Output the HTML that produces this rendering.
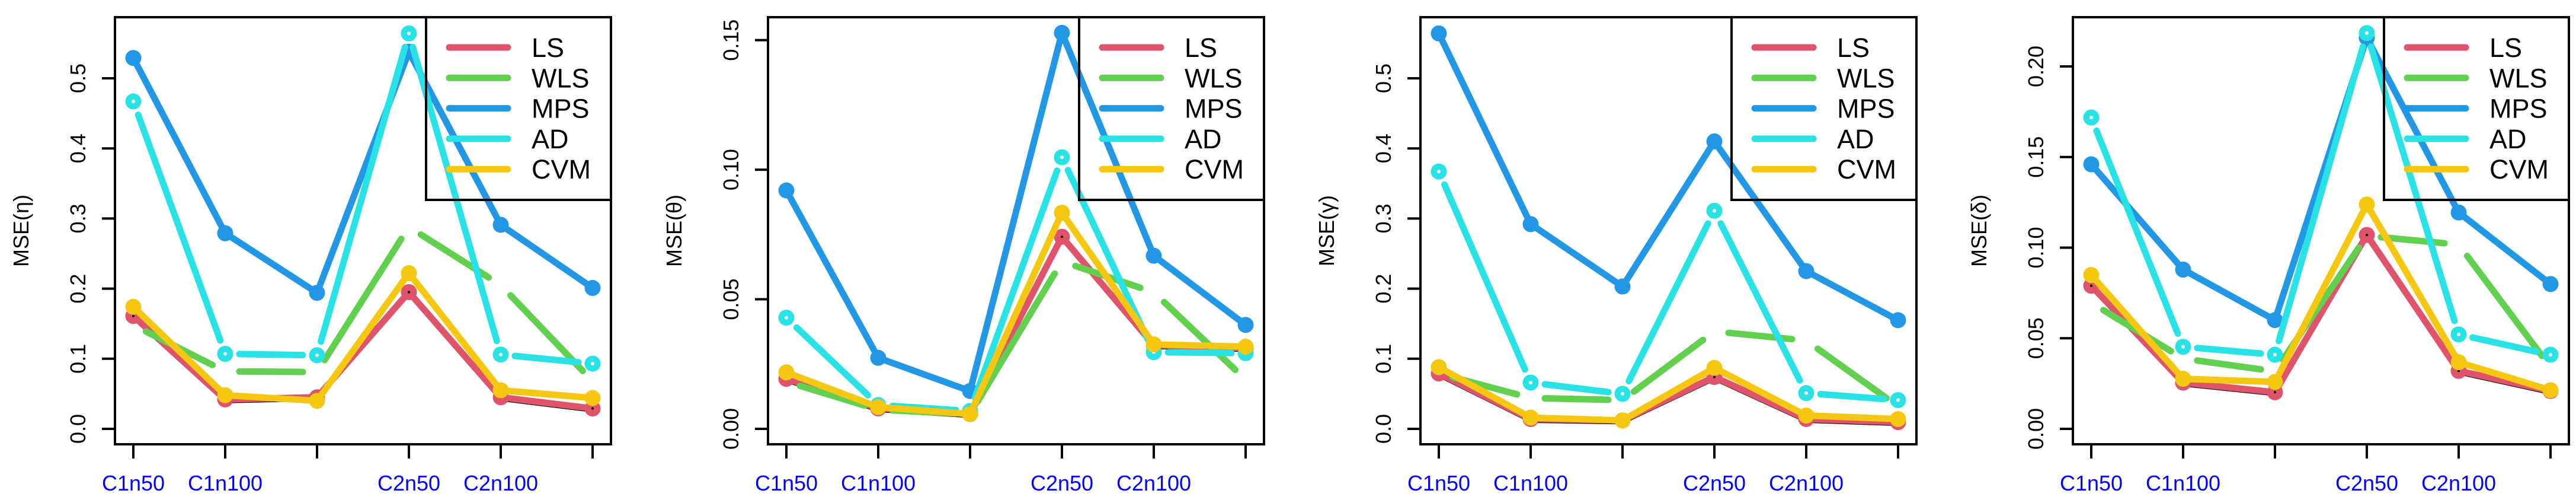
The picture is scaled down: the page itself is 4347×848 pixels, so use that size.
<!DOCTYPE html>
<html><head><meta charset="utf-8"><style>
html,body{margin:0;padding:0;background:#fff;}
svg{display:block;font-family:"Liberation Sans",Arial,sans-serif;}
</style></head><body>
<svg id="chart" width="4347" height="848" viewBox="0 0 4347 848" xmlns="http://www.w3.org/2000/svg"></svg>
<script>
const categories = ["C1n50","C1n100","","C2n50","C2n100",""];
const seriesNames = ["LS","WLS","MPS","AD","CVM"];
const panelTitles = ["MSE(η)","MSE(θ)","MSE(γ)","MSE(δ)"];
const ticksP1 = [0.0,0.1,0.2,0.3,0.4,0.5];
const ticksP2 = [0.00,0.05,0.10,0.15];
const ticksP3 = [0.0,0.1,0.2,0.3,0.4,0.5];
const ticksP4 = [0.00,0.05,0.10,0.15,0.20];
const tickLabelsP1 = ["0.0","0.1","0.2","0.3","0.4","0.5"];
const tickLabelsP2 = ["0.00","0.05","0.10","0.15"];
const tickLabelsP3 = ["0.0","0.1","0.2","0.3","0.4","0.5"];
const tickLabelsP4 = ["0.00","0.05","0.10","0.15","0.20"];
// panel 1: eta
const p1LS  = [0.161,0.042,0.045,0.195,0.045,0.029];
const p1WLS = [0.148,0.082,0.081,0.288,0.205,0.068];
const p1MPS = [0.529,0.279,0.194,0.538,0.291,0.201];
const p1AD  = [0.467,0.107,0.105,0.564,0.106,0.093];
const p1CVM = [0.174,0.048,0.040,0.222,0.055,0.044];
// panel 2: theta
const p2LS  = [0.0193,0.0079,0.0057,0.0741,0.0323,0.0311];
const p2WLS = [0.0182,0.0074,0.0057,0.0646,0.0527,0.0190];
const p2MPS = [0.0920,0.0274,0.0146,0.1528,0.0668,0.0401];
const p2AD  = [0.0429,0.0092,0.0069,0.1048,0.0296,0.0292];
const p2CVM = [0.0218,0.0084,0.0057,0.0834,0.0326,0.0317];
// panel 3: gamma
const p3LS  = [0.079,0.014,0.012,0.074,0.014,0.0096];
const p3WLS = [0.079,0.044,0.041,0.139,0.126,0.032];
const p3MPS = [0.564,0.292,0.203,0.410,0.225,0.155];
const p3AD  = [0.367,0.066,0.050,0.311,0.051,0.041];
const p3CVM = [0.088,0.016,0.012,0.087,0.019,0.014];
// panel 4: delta
const p4LS  = [0.079,0.0255,0.0202,0.107,0.032,0.0209];
const p4WLS = [0.0696,0.0388,0.0317,0.1065,0.1017,0.034];
const p4MPS = [0.146,0.0879,0.060,0.2158,0.1194,0.0799];
const p4AD  = [0.1718,0.0453,0.0409,0.2184,0.0521,0.0409];
const p4CVM = [0.0849,0.0276,0.0259,0.1238,0.0368,0.0213];

const panelData = [[p1LS,p1WLS,p1MPS,p1AD,p1CVM],[p2LS,p2WLS,p2MPS,p2AD,p2CVM],[p3LS,p3WLS,p3MPS,p3AD,p3CVM],[p4LS,p4WLS,p4MPS,p4AD,p4CVM]];
const panelTicks = [ticksP1,ticksP2,ticksP3,ticksP4];
const panelTickLabels = [tickLabelsP1,tickLabelsP2,tickLabelsP3,tickLabelsP4];

const colors = ["#DF536B","#61D04F","#2297E6","#28E2E5","#F5C710"];
const NS = "http://www.w3.org/2000/svg";
const svg = document.getElementById("chart");
function mk(tag, attrs, parent){
  const e = document.createElementNS(NS, tag);
  for (const k in attrs) e.setAttribute(k, attrs[k]);
  (parent||svg).appendChild(e);
  return e;
}
const firstTick = [225,1327,2428,3529];
const yPxPerUnit = [1182,4369,1182,3055];
const Y0 = 723, TOP = 29, BOTTOM = 749, STEP = 155;

for (let p=0;p<4;p++){
  const g = mk("g",{});
  
  
  const xs = i => firstTick[p] + i*STEP;
  const ys = v => Y0 - v*yPxPerUnit[p];
  const bl = firstTick[p]-31, br = firstTick[p]+806;
  const data = panelData[p];

  // series
  for (let s=0;s<5;s++){
    const vals = data[s];
    const sg = mk("g",{},g);
    
    
    const gapped = (s===1 || s===3);
    if (gapped){
      for (let i=0;i<vals.length-1;i++){
        const x1=xs(i),y1=ys(vals[i]),x2=xs(i+1),y2=ys(vals[i+1]);
        const dx=x2-x1,dy=y2-y1,L=Math.hypot(dx,dy),gap=24;
        if (L<2*gap) continue;
        const seg = mk("line",{x1:x1+dx*gap/L,y1:y1+dy*gap/L,x2:x2-dx*gap/L,y2:y2-dy*gap/L,stroke:colors[s],"stroke-width":11,"stroke-linecap":"round"},sg);
        
        
      }
    } else {
      const pts = vals.map((v,i)=>xs(i)+","+ys(v)).join(" ");
      if (s===0){
        const bk = mk("polyline",{points:vals.map((v,i)=>xs(i)+","+(ys(v)+4)).join(" "),fill:"none",stroke:"#000","stroke-width":5,"stroke-linejoin":"round"},sg);
        
        
      }
      const pl = mk("polyline",{points:pts,fill:"none",stroke:colors[s],"stroke-width":11,"stroke-linejoin":"round","stroke-linecap":"round"},sg);
      
      
    }
    if (s!==1){
      vals.forEach((v,i)=>{
        const c = mk("circle",{cx:xs(i),cy:ys(v),r:13.5,fill:colors[s]},sg);
        
        
        if (s===3 || s===0){
          const d = mk("circle",{cx:xs(i),cy:ys(v),r:s===3?3:2,fill:s===3?"#fff":"#000"},sg);
          
          
        }
      });
    }
  }

  // box
  const box = mk("rect",{x:bl,y:TOP,width:br-bl,height:BOTTOM-TOP,fill:"none",stroke:"#000","stroke-width":4},g);
  
  

  // x ticks
  categories.forEach((c,i)=>{
    const t = mk("line",{x1:xs(i),y1:BOTTOM,x2:xs(i),y2:773,stroke:"#000","stroke-width":4},g);
    
    
    if (c){
      const tx = mk("text",{x:xs(i),y:827,"text-anchor":"middle","font-size":36,fill:"#0000FF"},g);
      tx.textContent = c;
      
      
    }
  });
  // y ticks
  panelTicks[p].forEach((v,i)=>{
    const y = ys(v);
    const t = mk("line",{x1:bl-22,y1:y,x2:bl,y2:y,stroke:"#000","stroke-width":4},g);
    
    
    const tx = mk("text",{x:0,y:0,"text-anchor":"middle","font-size":36,fill:"#000",transform:`translate(${bl-50},${y}) rotate(-90)`},g);
    tx.textContent = panelTickLabels[p][i];
    
    
  });
  // y title
  const yt = mk("text",{x:0,y:0,"text-anchor":"middle","font-size":36,fill:"#000",transform:`translate(${bl-146},${(TOP+BOTTOM)/2}) rotate(-90)`},g);
  yt.textContent = panelTitles[p];
  
  

  // legend
  const lg = mk("g",{},g);
  
  
  const ll = br-312;
  const lr = mk("rect",{x:ll,y:TOP,width:312,height:337-TOP,fill:"none",stroke:"#000","stroke-width":4},lg);
  
  
  seriesNames.forEach((n,i)=>{
    const yy = 80 + i*51.3;
    const ln = mk("line",{x1:ll+39,y1:yy,x2:ll+138,y2:yy,stroke:colors[i],"stroke-width":11,"stroke-linecap":"round"},lg);
    
    
    const tx = mk("text",{x:ll+178,y:yy+16,"font-size":45,fill:"#000"},lg);
    tx.textContent = n;
    
    
  });
}
</script>
</body></html>
